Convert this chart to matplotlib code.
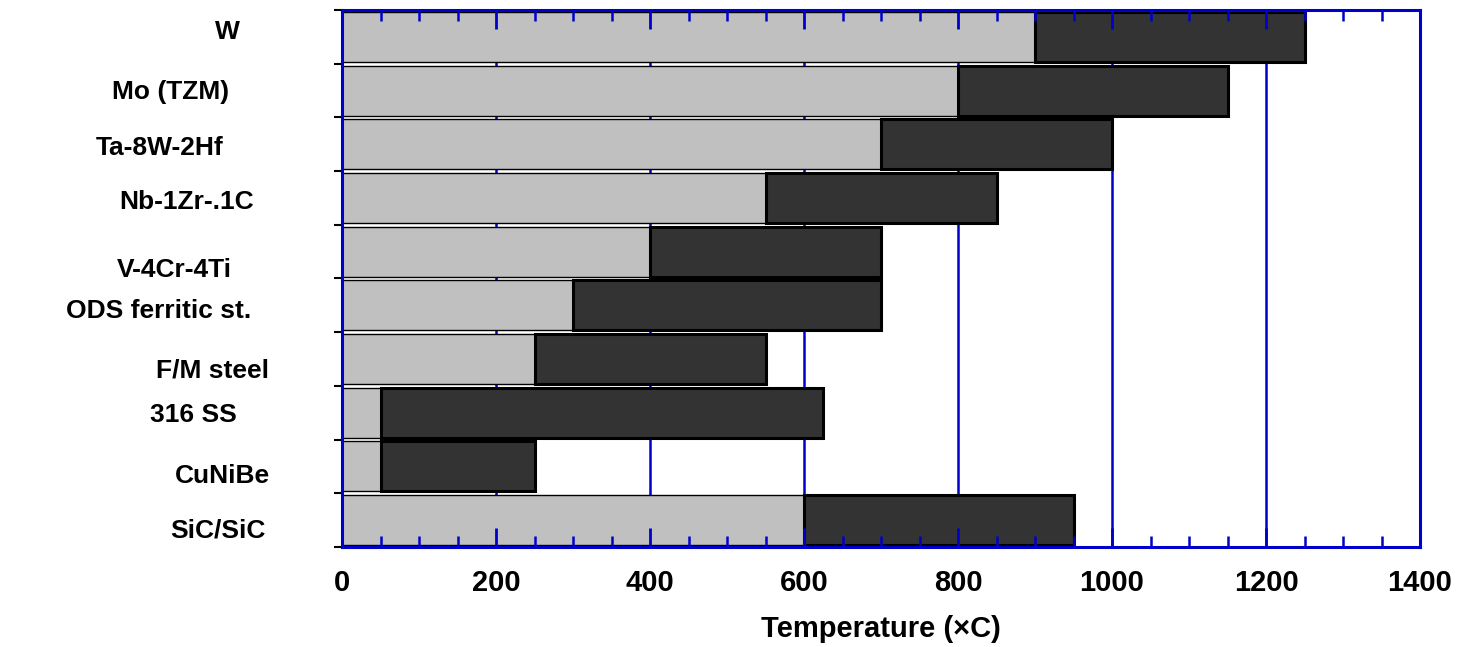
import matplotlib
matplotlib.use("Agg")
import matplotlib.pyplot as plt
from matplotlib.ticker import MultipleLocator
import numpy as np

materials = ["W", "Mo (TZM)", "Ta-8W-2Hf", "Nb-1Zr-.1C", "V-4Cr-4Ti",
             "ODS ferritic st.", "F/M steel", "316 SS", "CuNiBe", "SiC/SiC"]
t_min = [900, 800, 700, 550, 400, 300, 250, 50, 50, 600]
t_max = [1250, 1150, 1000, 850, 700, 700, 550, 625, 250, 950]
x_ticks = [0, 200, 400, 600, 800, 1000, 1200, 1400]
x_label = "Temperature (×C)"

plt.rcParams['font.family'] = ['Liberation Sans', 'DejaVu Sans']

fig = plt.figure(figsize=(14.75, 6.47), dpi=100)
ax = fig.add_axes([342/1475, 1-547/647, (1420-342)/1475, (547-10)/647])

blue = "#0000CC"
idx = np.arange(len(materials))
h = 0.93

# vertical grid lines behind bars
for xv in x_ticks[1:-1]:
    ax.axvline(xv, color=blue, linewidth=1.8, zorder=1)

ax.barh(idx, t_min, height=h, color="#C0C0C0", edgecolor="black", linewidth=1.0, zorder=2)
ax.barh(idx, np.array(t_max) - np.array(t_min), left=t_min, height=h,
        color="#333333", edgecolor="black", linewidth=2.2, zorder=2)

ax.set_xlim(0, 1400)
ax.set_ylim(len(materials) - 0.5, -0.5)
ax.set_xticks(x_ticks)
ax.xaxis.set_minor_locator(MultipleLocator(50))
ax.set_axisbelow(False)

for s in ax.spines.values():
    s.set_color(blue)
    s.set_linewidth(2.2)
    s.set_zorder(4)

ax.tick_params(axis="x", which="major", direction="in", top=True, bottom=True,
               length=14, width=2, color=blue, labelsize=21, pad=16)
ax.tick_params(axis="x", which="minor", direction="in", top=True, bottom=True,
               length=8, width=1.8, color=blue)
ax.set_xticklabels([str(v) for v in x_ticks], fontweight="bold")

ax.set_yticks(np.arange(len(materials) + 1) - 0.5)
ax.set_yticklabels([])
ax.tick_params(axis="y", which="major", direction="out", length=6, width=1.5, color="black")

ax.set_xlabel(x_label, fontsize=21, fontweight="bold", labelpad=13)

# label placement (figure pixel centers)
label_x = [227, 171, 160, 187, 174, 159, 212, 193, 222, 218]
label_y = [32, 92, 148, 202, 270, 311, 370, 415, 476, 530]
for name, lx, ly in zip(materials, label_x, label_y):
    fig.text(lx/1475, 1 - ly/647, name, ha="center", va="center",
             fontsize=19, fontweight="bold")

fig.savefig("out.png", dpi=100)
